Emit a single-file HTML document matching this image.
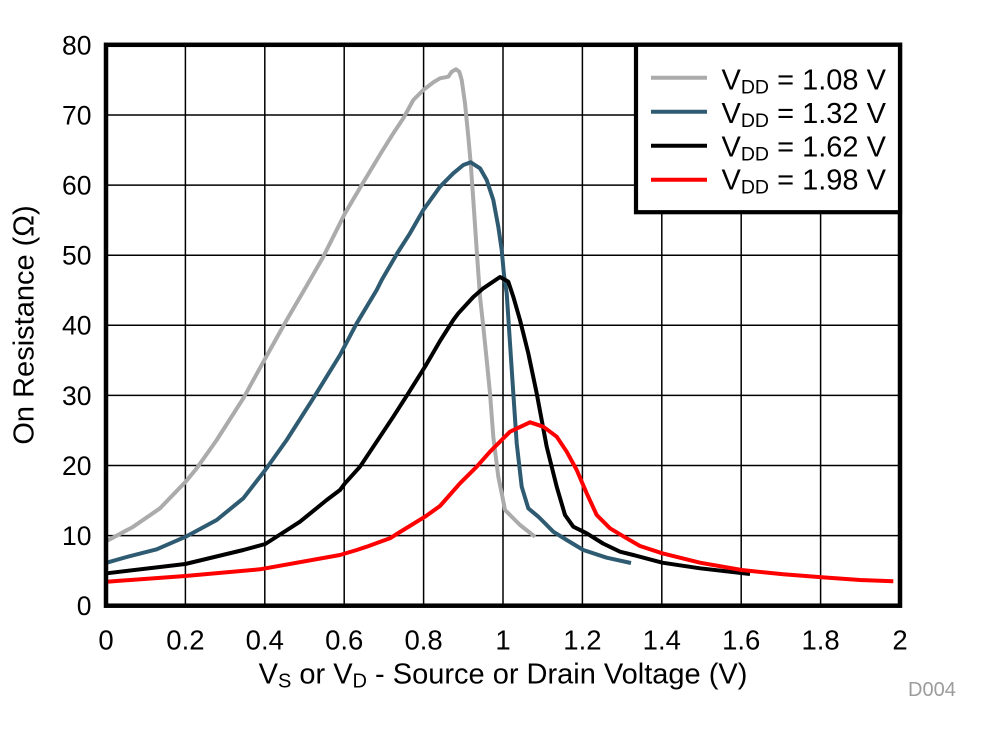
<!DOCTYPE html>
<html>
<head>
<meta charset="utf-8">
<style>
  html, body { margin: 0; padding: 0; background: #ffffff; }
  body { width: 982px; height: 734px; overflow: hidden; }
  svg { display: block; }
  text { font-family: "Liberation Sans", Arial, sans-serif; fill: #000; }
</style>
</head>
<body>
<svg width="982" height="734" viewBox="0 0 982 734" xmlns="http://www.w3.org/2000/svg">
  <rect x="0" y="0" width="982" height="734" fill="#ffffff"/>

  <!-- gridlines vertical -->
  <g stroke="#000" stroke-width="1.5">
    <line x1="185.4" y1="45" x2="185.4" y2="606"/>
    <line x1="264.8" y1="45" x2="264.8" y2="606"/>
    <line x1="344.2" y1="45" x2="344.2" y2="606"/>
    <line x1="423.6" y1="45" x2="423.6" y2="606"/>
    <line x1="503" y1="45" x2="503" y2="606"/>
    <line x1="582.4" y1="45" x2="582.4" y2="606"/>
    <line x1="661.8" y1="45" x2="661.8" y2="606"/>
    <line x1="741.2" y1="45" x2="741.2" y2="606"/>
    <line x1="820.6" y1="45" x2="820.6" y2="606"/>
    <!-- horizontal -->
    <line x1="106" y1="535.6" x2="900" y2="535.6"/>
    <line x1="106" y1="465.5" x2="900" y2="465.5"/>
    <line x1="106" y1="395.4" x2="900" y2="395.4"/>
    <line x1="106" y1="325.3" x2="900" y2="325.3"/>
    <line x1="106" y1="255.2" x2="900" y2="255.2"/>
    <line x1="106" y1="185.1" x2="900" y2="185.1"/>
    <line x1="106" y1="115.0" x2="900" y2="115.0"/>
  </g>

  <!-- curves -->
  <g fill="none" stroke-width="4" stroke-linejoin="round" stroke-linecap="butt">
    <polyline stroke="#ABABAB" points="106.7,541 133.3,526.7 160,508.3 185.7,481.7 196.7,468.3 216.7,440 243.3,398.3 265.3,358.3 286.7,320 310,280 323.3,256.7 345,213.3 361.7,185 381,153 393.3,133.3 403.3,118.3 413.3,100 423.3,90 433.3,82.3 440,78.3 448.3,76.7 451.7,71.7 456,69.3 459.3,71.7 461.7,80 465,103.3 468.3,136.7 470.7,163.3 473.3,200 476.7,250 480,296.7 483.3,326.7 486.7,360 490,393.3 493.3,436.7 498.3,476.7 501.7,493.3 505,510 510,515 520,525 535,536.7"/>
    <polyline stroke="#2E5B71" points="106.7,562.7 126.7,557 156.7,549.3 185.7,536.7 216.7,520 243.3,498.3 265.3,470 286.7,440 313.3,398.3 340,355 356.7,323.3 376.7,290 381.7,280 398,252 410,233.3 423.3,210 440,186.7 453.3,173.3 463.3,165 470.7,162.3 480,168.3 486.7,180 493.3,200 498.3,226.7 501.7,250 504,275 506.7,293.3 510,343.3 513.3,393.3 516.7,443.3 521.7,486.7 528.3,508.3 538.3,516.7 541.7,520 553.3,531.7 566.7,540 583.3,550 606.7,557.7 631,563"/>
    <polyline stroke="#000000" points="106.7,573.3 185.3,564 243.3,550 265.3,544 300,521.7 326.7,500 340,490 345,483.3 360,466.7 380,436.7 393.3,416.7 408.3,393.3 425,366.7 440,341 453.3,320 458.3,313.3 473.3,297 483.3,288.3 500,277 508.3,281.7 513.3,296.7 520,320 528.3,353.3 536.7,393.3 546.7,446.7 556.7,486.7 565,515 573.3,526.7 586.7,533.3 603,543.5 620,551.7 633.3,555 662.3,562.7 700,568.3 750,574"/>
    <polyline stroke="#FF0000" points="106.7,581.7 185.3,576 260,569.3 340,555 356.7,550 366.7,546.7 390,538.3 400,532 425,516.7 440,506 460,483.3 476.7,466.7 490,451.7 510,431.7 530,422.3 543.3,426.7 556.7,436.7 566.7,451.7 576.7,470 586.7,493.3 596.7,515 610,528.3 626.7,538.3 640,546 662.3,553.3 700,562.7 741.7,570 783.3,574.3 821.7,577.3 860,580 893.3,581.3"/>
  </g>

  <!-- plot frame -->
  <rect x="106" y="44.8" width="794" height="560.9" fill="none" stroke="#000" stroke-width="4.5"/>

  <!-- legend -->
  <rect x="636" y="44.8" width="264" height="167.4" fill="#ffffff" stroke="#000" stroke-width="4.2"/>
  <g stroke-width="4">
    <line x1="651" y1="77.7" x2="707" y2="77.7" stroke="#ABABAB"/>
    <line x1="651" y1="111.7" x2="707" y2="111.7" stroke="#2E5B71"/>
    <line x1="651" y1="145.7" x2="707" y2="145.7" stroke="#000000"/>
    <line x1="651" y1="179.8" x2="707" y2="179.8" stroke="#FF0000"/>
  </g>
  <g font-size="29">
    <text x="721.5" y="89.5">V<tspan font-size="19.5" dy="4">DD</tspan><tspan dy="-4"> = 1.08 V</tspan></text>
    <text x="721.5" y="123">V<tspan font-size="19.5" dy="4">DD</tspan><tspan dy="-4"> = 1.32 V</tspan></text>
    <text x="721.5" y="156.3">V<tspan font-size="19.5" dy="4">DD</tspan><tspan dy="-4"> = 1.62 V</tspan></text>
    <text x="721.5" y="189.5">V<tspan font-size="19.5" dy="4">DD</tspan><tspan dy="-4"> = 1.98 V</tspan></text>
  </g>

  <!-- y tick labels -->
  <g font-size="26.5" text-anchor="end">
    <text x="91.5" y="615">0</text>
    <text x="91.5" y="545">10</text>
    <text x="91.5" y="474.9">20</text>
    <text x="91.5" y="404.8">30</text>
    <text x="91.5" y="334.7">40</text>
    <text x="91.5" y="264.6">50</text>
    <text x="91.5" y="194.5">60</text>
    <text x="91.5" y="124.4">70</text>
    <text x="91.5" y="54.3">80</text>
  </g>

  <!-- x tick labels -->
  <g font-size="27.5" text-anchor="middle">
    <text x="106" y="649.5">0</text>
    <text x="185.4" y="649.5">0.2</text>
    <text x="264.8" y="649.5">0.4</text>
    <text x="344.2" y="649.5">0.6</text>
    <text x="423.6" y="649.5">0.8</text>
    <text x="503" y="649.5">1</text>
    <text x="582.4" y="649.5">1.2</text>
    <text x="661.8" y="649.5">1.4</text>
    <text x="741.2" y="649.5">1.6</text>
    <text x="820.6" y="649.5">1.8</text>
    <text x="900" y="649.5">2</text>
  </g>

  <!-- axis titles -->
  <text x="503" y="683.3" font-size="29" text-anchor="middle">V<tspan font-size="20" dy="4">S</tspan><tspan dy="-4"> or V</tspan><tspan font-size="20" dy="4">D</tspan><tspan dy="-4"> - Source or Drain Voltage (V)</tspan></text>
  <text transform="translate(33.3,325) rotate(-90)" font-size="29" text-anchor="middle">On Resistance (Ω)</text>

  <text x="908" y="696" font-size="20" style="fill:#9C9C9C">D004</text>
</svg>
</body>
</html>
